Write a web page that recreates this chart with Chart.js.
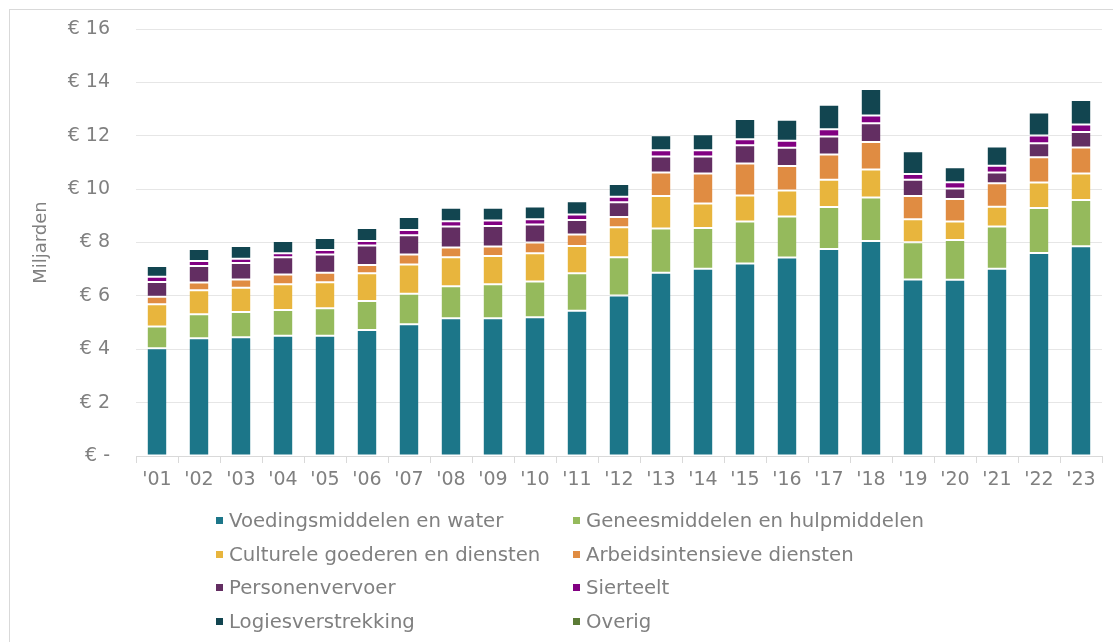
<!DOCTYPE html>
<html>
<head>
<meta charset="utf-8">
<script src="https://cdn.jsdelivr.net/npm/chart.js@4.4.1/dist/chart.umd.min.js"></script>
<style>
  html, body { margin: 0; padding: 0; background: #fff; }
  #wrap { position: relative; width: 1113px; height: 642px; overflow: hidden; font-family: "DejaVu Sans", Verdana, sans-serif; }
  #frame { position: absolute; left: 9px; top: 9px; width: 1200px; height: 700px; border-left: 1px solid #d9d9d9; border-top: 1px solid #d9d9d9; }
  #c { position: absolute; left: 0; top: 0; }
  #legend { position: absolute; left: 0; top: 0; width: 1113px; height: 642px; pointer-events: none; }
  .item { position: absolute; height: 24px; line-height: 24px; color: #808080; font-size: 19.7px; white-space: nowrap; }
  .box { position: absolute; width: 7px; height: 7px; top: 8px; left: 0; }
  .lbl { position: absolute; left: 13px; top: 0; }
</style>
</head>
<body>
<div id="wrap">
  <div id="frame"></div>
  <canvas id="c" width="1113" height="500"></canvas>
  <div id="legend"></div>
</div>
<script>
const categories = ["'01","'02","'03","'04","'05","'06","'07","'08","'09","'10","'11","'12","'13","'14","'15","'16","'17","'18","'19","'20","'21","'22","'23"];

const seriesNames = ["Voedingsmiddelen en water","Geneesmiddelen en hulpmiddelen","Culturele goederen en diensten","Arbeidsintensieve diensten","Personenvervoer","Sierteelt","Logiesverstrekking","Overig"];

const voedingsmiddelen = [4.04,4.41,4.45,4.51,4.51,4.72,4.94,5.16,5.16,5.20,5.44,6.01,6.87,7.02,7.21,7.44,7.76,8.06,6.61,6.60,7.02,7.61,7.86];
const geneesmiddelen   = [0.81,0.90,0.95,0.96,1.03,1.09,1.14,1.20,1.28,1.34,1.41,1.44,1.65,1.52,1.58,1.53,1.57,1.63,1.40,1.49,1.58,1.68,1.73];
const cultureel        = [0.84,0.90,0.90,0.97,0.97,1.04,1.10,1.09,1.05,1.06,1.02,1.12,1.22,0.92,0.97,0.98,1.02,1.05,0.86,0.70,0.74,0.96,1.00];
const arbeidsintensief = [0.28,0.29,0.31,0.36,0.36,0.31,0.37,0.36,0.36,0.40,0.43,0.39,0.88,1.13,1.20,0.92,0.95,1.03,0.87,0.84,0.88,0.94,0.97];
const personenvervoer  = [0.55,0.62,0.62,0.65,0.68,0.73,0.72,0.79,0.77,0.67,0.54,0.55,0.60,0.63,0.68,0.68,0.67,0.70,0.61,0.39,0.40,0.53,0.58];
const sierteelt        = [0.20,0.19,0.16,0.15,0.17,0.17,0.20,0.20,0.20,0.20,0.21,0.20,0.24,0.24,0.23,0.26,0.27,0.29,0.22,0.24,0.26,0.29,0.28];
const logies           = [0.40,0.45,0.48,0.46,0.45,0.48,0.49,0.50,0.48,0.48,0.50,0.48,0.56,0.60,0.76,0.79,0.92,0.99,0.85,0.56,0.72,0.86,0.92];
const overig           = [0,0,0,0,0,0,0,0,0,0,0,0,0,0,0,0,0,0,0,0,0,0,0];

const yTicks = [0,2,4,6,8,10,12,14,16];

const seriesValues = [voedingsmiddelen, geneesmiddelen, cultureel, arbeidsintensief, personenvervoer, sierteelt, logies, overig];
const colors = ["#1C7689","#95BA5C","#E8B53D","#E08C42","#632E62","#820082","#124550","#5B7B35"];

const FONT = "'DejaVu Sans', Verdana, sans-serif";
const GRAY = "#808080";

const datasets = seriesNames.map((name, i) => ({
  label: name,
  data: seriesValues[i],
  backgroundColor: colors[i],
  borderColor: "#ffffff",
  borderWidth: {top: 1, bottom: 1, left: 0, right: 0},
  borderSkipped: false,
  categoryPercentage: 1.0,
  barPercentage: 0.45
}));

const chart = new Chart(document.getElementById('c'), {
  type: 'bar',
  data: { labels: categories, datasets },
  options: {
    responsive: false,
    animation: false,
    devicePixelRatio: 1,
    layout: { autoPadding: false, padding: { left: 20, top: 29, right: 11, bottom: 0 } },
    plugins: { legend: { display: false }, tooltip: { enabled: false } },
    scales: {
      x: {
        stacked: true,
        grid: { display: true, offset: true, drawOnChartArea: false, drawTicks: true, tickLength: 7, color: "#d9d9d9" },
        border: { display: true, color: "#d9d9d9" },
        ticks: { color: GRAY, font: { family: FONT, size: 19 }, padding: 6, maxRotation: 0, autoSkip: false },
        afterFit: (s) => { s.height = 44; }
      },
      y: {
        stacked: true,
        min: 0, max: 16,
        afterBuildTicks: (s) => { s.ticks = yTicks.map(v => ({ value: v })); },
        grid: { color: "#e6e6e6", drawTicks: true, tickLength: 24, tickColor: "rgba(0,0,0,0)" },
        border: { display: false },
        ticks: {
          color: GRAY, font: { family: FONT, size: 19 }, padding: 2,
          callback: (v) => v === 0 ? "€ -" : "€ " + v
        },
        title: { display: true, text: "Miljarden", color: GRAY, font: { family: FONT, size: 18 }, padding: { top: 11, bottom: 0 } },
        afterFit: (s) => { s.width = 116; }
      }
    }
  }
});

// HTML legend (two columns), built from dataset info
const legendEl = document.getElementById('legend');
const colX = [216, 573];
const rowY = [509, 543, 576, 610];
seriesNames.forEach((name, i) => {
  const item = document.createElement('div');
  item.className = 'item';
  item.style.left = colX[i % 2] + 'px';
  item.style.top = rowY[Math.floor(i / 2)] + 'px';
  const box = document.createElement('div');
  box.className = 'box';
  box.style.background = colors[i];
  const lbl = document.createElement('div');
  lbl.className = 'lbl';
  lbl.textContent = name;
  item.appendChild(box);
  item.appendChild(lbl);
  legendEl.appendChild(item);
});
</script>
</body>
</html>
